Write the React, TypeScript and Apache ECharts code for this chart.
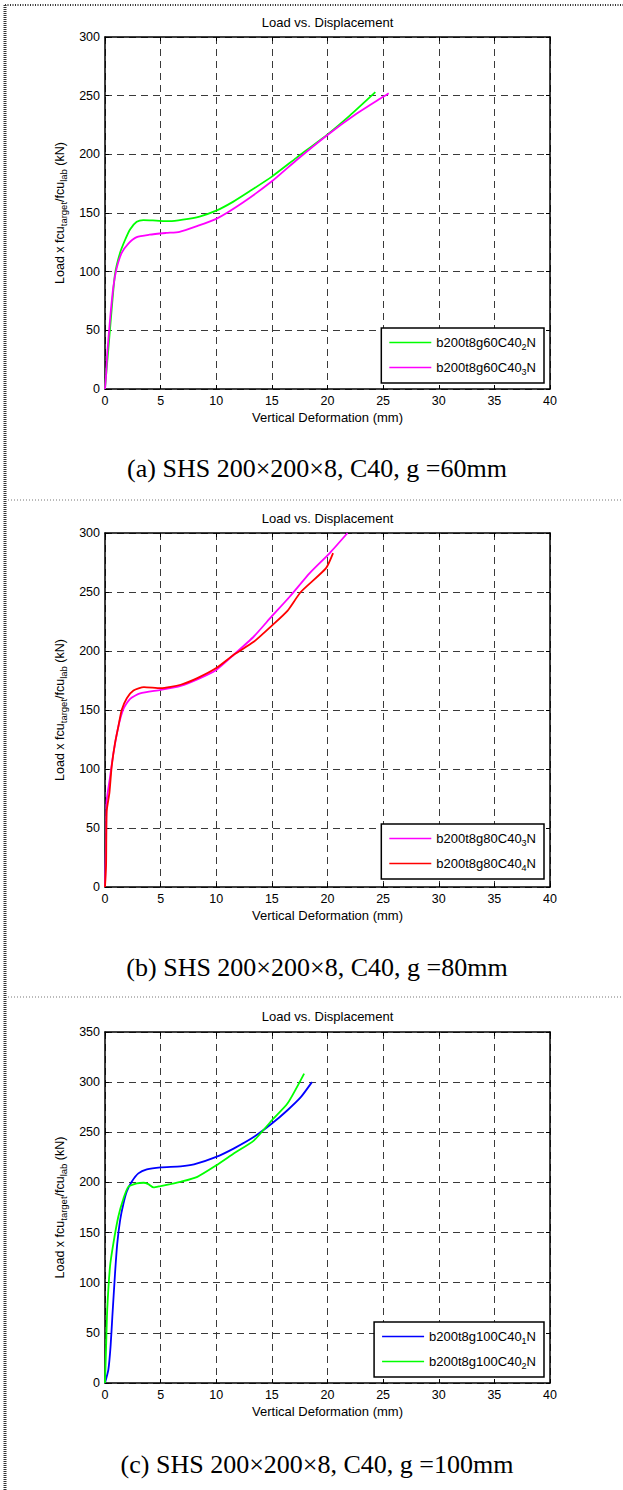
import React, { useEffect, useRef } from "react";
import * as echarts from "echarts";

// ---------- axis ranges ----------
const X_MIN = 0;
const X_MAX = 40;
const X_STEP = 5;
const Y_MAX = [300, 300, 350];
const Y_STEP = 50;

// ---------- texts ----------
const CHART_TITLES = ["Load vs. Displacement", "Load vs. Displacement", "Load vs. Displacement"];
const X_NAME = "Vertical Deformation (mm)";
const Y_NAME = "Load x fcu{sub|target}/fcu{sub|lab} (kN)";
const CAPTIONS = [
  "(a) SHS 200×200×8, C40, g =60mm",
  "(b) SHS 200×200×8, C40, g =80mm",
  "(c) SHS 200×200×8, C40, g =100mm",
];

// ---------- (a) g = 60 mm ----------
const NAMES_A = ["b200t8g60C40_2N", "b200t8g60C40_3N"];
const COLORS_A = ["#00ff00", "#ff00ff"];
const g60_C40_2: [number, number][] = [
  [0, 0], [0.1, 12], [0.3, 34], [0.6, 68], [0.9, 98], [1.35, 116], [1.8, 127],
  [2.25, 136], [2.85, 142.5], [3.45, 144], [4.6, 143.5], [5.8, 143], [7.0, 144.3],
  [8.5, 147], [10, 152], [11.5, 159.5], [13, 168.5], [15, 181], [17.2, 197],
  [20, 217], [22, 233], [24.3, 253],
];
const g60_C40_3: [number, number][] = [
  [0, 0], [0.1, 12], [0.2, 30], [0.45, 59], [0.75, 87], [1.05, 103], [1.5, 116],
  [2.1, 124], [2.85, 129.5], [4.0, 131.5], [5.5, 133], [6.7, 134], [8.2, 138.6],
  [10, 145], [12.4, 159], [15, 177], [17.2, 195], [20, 216.5], [22.6, 234.5],
  [25, 249], [25.5, 252],
];

// ---------- (b) g = 80 mm ----------
const NAMES_B = ["b200t8g80C40_3N", "b200t8g80C40_4N"];
const COLORS_B = ["#ff00ff", "#ff0000"];
const g80_C40_3: [number, number][] = [
  [0, 0], [0.1, 40], [0.15, 73], [0.45, 93], [0.75, 113], [1.2, 136], [1.66, 151],
  [2.26, 159.5], [3.16, 164], [5, 167], [6.8, 170.5], [8.3, 176], [10, 184],
  [11.6, 197], [13.4, 212.5], [15, 229.5], [16.6, 246], [18.4, 266], [20.2, 283],
  [21.8, 300],
];
const g80_C40_4: [number, number][] = [
  [0, 0], [0.1, 20], [0.15, 64], [0.4, 80], [0.6, 102], [0.9, 122], [1.2, 136],
  [1.5, 150], [1.96, 160], [2.56, 166.5], [3.5, 169.4], [5, 168.5], [6.8, 171.4],
  [8.3, 177], [10, 185.5], [11.6, 197], [13.4, 208], [15, 221.5], [16.4, 234],
  [17.6, 250], [19.85, 270], [20.5, 283],
];

// ---------- (c) g = 100 mm ----------
const NAMES_C = ["b200t8g100C40_1N", "b200t8g100C40_2N"];
const COLORS_C = ["#0000ff", "#00ff00"];
const g100_C40_1: [number, number][] = [
  [0, 0], [0.3, 13], [0.5, 36.5], [0.66, 66], [0.9, 109], [1.1, 139], [1.36, 162.5],
  [1.66, 179], [1.96, 191], [2.4, 200.7], [3.0, 209], [3.76, 213], [5, 215],
  [6.8, 216], [8, 218], [10, 225.5], [11.6, 234], [13.4, 245.5], [15, 258.7],
  [16.4, 272], [17.6, 285], [18.6, 300],
];
const g100_C40_2: [number, number][] = [
  [0, 0], [0.1, 36.5], [0.2, 73], [0.45, 116], [0.75, 139], [1.2, 166], [1.66, 184],
  [2.1, 195.7], [2.86, 199], [3.46, 199.7], [3.9, 198.3], [4.37, 195], [5, 196.4],
  [5.87, 198.3], [6.8, 200.6], [8.3, 205.6], [10, 217], [11.6, 229], [13.4, 242],
  [15, 262], [16.4, 278.6], [17.9, 308.5],
];

const PANELS = [
  { names: NAMES_A, colors: COLORS_A, data: [g60_C40_2, g60_C40_3] },
  { names: NAMES_B, colors: COLORS_B, data: [g80_C40_3, g80_C40_4] },
  { names: NAMES_C, colors: COLORS_C, data: [g100_C40_1, g100_C40_2] },
];

// ---------- layout ----------
const W = 623;
const H = 1490;
const GRID_LEFT = 105;
const GRID_W = 445;
const GRID_TOPS = [37, 533, 1032];
const GRID_HS = [352, 354, 351];
const TITLE_YS = [22.5, 518.5, 1016];
const CAPTION_YS = [468.5, 967.5, 1464];
const LEGEND_TOPS = [328, 824, 1322];
const SEPARATOR_YS = [500, 997];

const SANS = '"Liberation Sans", Arial, sans-serif';
const SERIF = '"Liberation Serif", "Times New Roman", serif';

function subName(n: string) {
  return n.replace(/_(\d)/, "{sub|$1}");
}

function buildOption() {
  const grid: any[] = [];
  const xAxis: any[] = [];
  const yAxis: any[] = [];
  const series: any[] = [];
  const legend: any[] = [];
  const graphic: any[] = [];

  const dashed = { show: true, lineStyle: { color: "#3a3a3a", width: 1, type: [7, 5] } };
  const axisLine = { show: true, onZero: false, lineStyle: { color: "#000", width: 1.5 } };
  const tick = { show: true, inside: true, length: 4, lineStyle: { color: "#000" } };
  const label = { color: "#000", fontSize: 12.5, fontFamily: SANS };

  PANELS.forEach((p, i) => {
    grid.push({ left: GRID_LEFT, top: GRID_TOPS[i], width: GRID_W, height: GRID_HS[i], show: false });
    xAxis.push({
      type: "value", gridIndex: i, min: X_MIN, max: X_MAX, interval: X_STEP, position: "bottom",
      axisLine, axisTick: tick, axisLabel: { ...label, margin: 5 }, splitLine: dashed,
      name: X_NAME, nameLocation: "middle", nameGap: 22,
      nameTextStyle: { color: "#000", fontSize: 13, fontFamily: SANS },
    });
    xAxis.push({
      type: "value", gridIndex: i, min: X_MIN, max: X_MAX, interval: X_STEP, position: "top",
      axisLine, axisTick: tick, axisLabel: { show: false }, splitLine: { show: false },
    });
    yAxis.push({
      type: "value", gridIndex: i, min: 0, max: Y_MAX[i], interval: Y_STEP, position: "left",
      axisLine, axisTick: tick, axisLabel: { ...label, margin: 5 }, splitLine: dashed,
      name: Y_NAME, nameLocation: "middle", nameGap: 36,
      nameTextStyle: {
        color: "#000", fontSize: 12.5, fontFamily: SANS,
        rich: { sub: { fontSize: 9.5, fontFamily: SANS, color: "#000", padding: [7, 0, 0, 0] } },
      },
    });
    yAxis.push({
      type: "value", gridIndex: i, min: 0, max: Y_MAX[i], interval: Y_STEP, position: "right",
      axisLine, axisTick: tick, axisLabel: { show: false }, splitLine: { show: false },
    });
    p.names.forEach((n, k) => {
      series.push({
        type: "line", name: n, xAxisIndex: 2 * i, yAxisIndex: 2 * i,
        data: p.data[k], symbol: "none", showSymbol: false, smooth: 0.2,
        lineStyle: { color: p.colors[k], width: 1.8 }, itemStyle: { color: p.colors[k] },
        z: 3 + k,
      });
    });
    legend.push({
      data: p.names.map((n) => ({ name: n, icon: "rect" })),
      orient: "vertical", right: W - 544, top: LEGEND_TOPS[i],
      backgroundColor: "#fff", borderColor: "#000", borderWidth: 1.5, borderRadius: 0,
      padding: [6, 8, 7, 8], itemGap: 8, itemWidth: 42, itemHeight: 1.5,
      selectedMode: false,
      formatter: (n: string) => subName(n),
      textStyle: {
        color: "#000", fontSize: 13, fontFamily: SANS, lineHeight: 17,
        rich: { sub: { fontSize: 9, fontFamily: SANS, color: "#000", padding: [8, 0, 0, 0] } },
      },
    });
    graphic.push({
      type: "text", x: GRID_LEFT + GRID_W / 2, y: TITLE_YS[i],
      style: { text: CHART_TITLES[i], fontSize: 13, fontFamily: SANS, fill: "#000", align: "center", verticalAlign: "middle" },
    });
    graphic.push({
      type: "text", x: 317, y: CAPTION_YS[i],
      style: { text: CAPTIONS[i], fontSize: 26, fontFamily: SERIF, fill: "#000", align: "center", verticalAlign: "middle" },
    });
  });

  // page borders / separators
  graphic.push({ type: "line", shape: { x1: 5, y1: 5, x2: W, y2: 5 }, style: { stroke: "#333", lineWidth: 2, lineDash: [1, 1.5] } });
  graphic.push({ type: "line", shape: { x1: 5, y1: 5, x2: 5, y2: H }, style: { stroke: "#333", lineWidth: 3, lineDash: [1, 1] } });
  SEPARATOR_YS.forEach((y) => {
    graphic.push({ type: "line", shape: { x1: 8, y1: y, x2: W, y2: y }, style: { stroke: "#777", lineWidth: 1, lineDash: [1, 2] } });
  });

  return {
    animation: false,
    backgroundColor: "#fff",
    grid, xAxis, yAxis, series, legend, graphic,
  };
}

export default function App() {
  const ref = useRef<HTMLDivElement>(null);
  useEffect(() => {
    if (!ref.current) return;
    const chart = echarts.init(ref.current, undefined, { renderer: "svg" });
    chart.setOption(buildOption() as any);
    return () => chart.dispose();
  }, []);
  return (
    <div
      ref={ref}
      style={{ position: "absolute", left: 0, top: 0, width: W, height: H, background: "#fff" }}
    />
  );
}
